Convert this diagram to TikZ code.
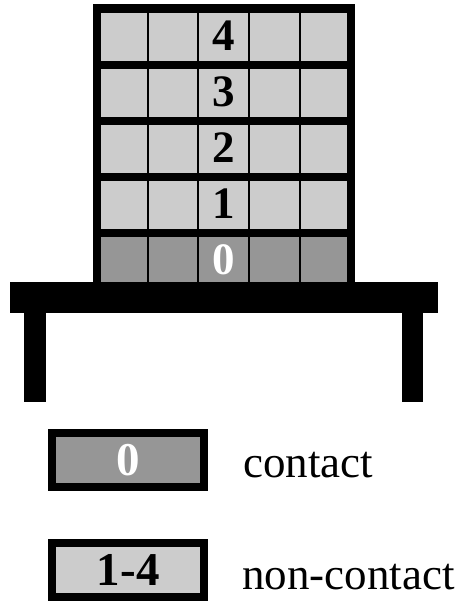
\documentclass[tikz,border=0pt]{standalone}
\usepackage{fontspec}
\setmainfont{Liberation Serif}
\usetikzlibrary{positioning}
\definecolor{cellgray}{RGB}{204,204,204}
\definecolor{basegray}{RGB}{150,150,150}

\begin{document}
\begin{tikzpicture}[
    x=1pt, y=-1pt,
    num/.style={font=\fontsize{45}{45}\selectfont\bfseries, inner sep=0pt, anchor=base},
    legbox/.style={draw, line width=8pt, minimum width=152pt, minimum height=54pt, inner sep=0pt,
                   font=\fontsize{47}{47}\selectfont\bfseries},
    lbl/.style={font=\fontsize{45}{45}\selectfont, inner sep=0pt, anchor=base west}
  ]
    \useasboundingbox (0,0) rectangle (459,601);

    % --- STACK ---
    \fill (93,4) rectangle (355,282);
    \foreach \k/\col/\txt in {0/basegray/white,1/cellgray/black,2/cellgray/black,3/cellgray/black,4/cellgray/black}{
      \pgfmathsetmacro{\rowtop}{236.7-56*\k}
      \fill[\col] (100.7,\rowtop) rectangle (347,\rowtop+48);
      \foreach \x in {147.7,198.3,249,300}
        \draw[line width=2pt] (\x,\rowtop) -- (\x,\rowtop+48);
      \node[num, text=\txt] (row\k) at (223.7,\rowtop+38) {\k};
    }

    % --- TABLE ---
    \fill (10,281.7) rectangle (437.7,313.3);
    \fill (24.3,313) rectangle (46,402.3);
    \fill (401.7,313) rectangle (423.3,402.3);

    % --- LEGEND ---
    \node[legbox, fill=basegray, text=white] (lcon) at (128.3,460) {0};
    \node[legbox, fill=cellgray] (lnon) at (128.3,570) {1-4};
    \node[lbl] (lcon_text) at (243,477) {contact};
    \node[lbl] (lnon_text) at (242,589) {non-contact};
\end{tikzpicture}
\end{document}
